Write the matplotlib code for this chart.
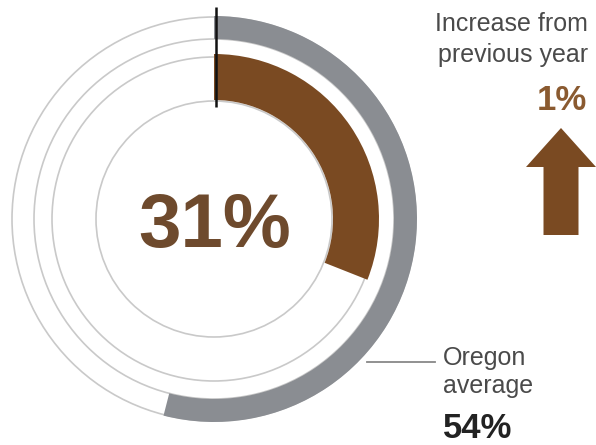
import matplotlib.pyplot as plt
from matplotlib.patches import Wedge, Circle, FancyArrow

W, H = 596, 445

# values
share = 31            # local share, percent
oregon_average = 54   # state average, percent
change = 1            # increase from previous year, percent

labels_top = ["Increase from", "previous year"]
labels_avg = ["Oregon", "average"]

BROWN = "#7a4a22"
BROWN_TEXT = "#6e4a2d"
GRAY = "#8a8d92"
THIN = "#c9c9c9"
TEXT = "#4a4a4a"

CX, CY = 214, H - 219
TRACKS = {"avg": (180, 203), "share": (119, 165)}

plt.rcParams['font.family'] = ['Liberation Sans', 'DejaVu Sans']

fig = plt.figure(figsize=(W / 100, H / 100), dpi=100)
ax = fig.add_axes([0, 0, 1, 1])
ax.set_xlim(0, W)
ax.set_ylim(0, H)
ax.set_aspect('equal')
ax.axis('off')


def pct_to_theta(p):
    # clockwise from 12 o'clock
    return 90 - 360 * p / 100


# thin track outlines
for r in [202, 180, 162, 118]:
    ax.add_patch(Circle((CX, CY), r, fill=False, ec=THIN, lw=1.2))

r0, r1 = TRACKS["avg"]
ax.add_patch(Wedge((CX, CY), r1, pct_to_theta(oregon_average), 90,
                   width=r1 - r0, color=GRAY, lw=0))
r0, r1 = TRACKS["share"]
ax.add_patch(Wedge((CX, CY), r1, pct_to_theta(share), 90,
                   width=r1 - r0, color=BROWN, lw=0))

# start marker
ax.plot([CX + 2, CX + 2], [H - 7, H - 107], color="#111111", lw=1.8,
        solid_capstyle='butt')

ax.text(CX + 1, H - 247, f"{share}%", ha='center', va='baseline',
        fontsize=55, fontweight='bold', color=BROWN_TEXT)

# increase block
ax.text(588, H - 31, labels_top[0], ha='right', va='baseline',
        fontsize=18, color=TEXT)
ax.text(588, H - 62, labels_top[1], ha='right', va='baseline',
        fontsize=18, color=TEXT)
ax.text(587, H - 110, f"{change}%", ha='right', va='baseline',
        fontsize=25, fontweight='bold', color="#8a5a30")
ax.add_patch(FancyArrow(561, H - 235, 0, 107, width=35, head_width=70,
                        head_length=39, length_includes_head=True,
                        color=BROWN, lw=0))

# oregon average label
ax.plot([367, 435], [H - 362, H - 362], color="#888888", lw=1.3)
ax.text(443, H - 365, labels_avg[0], ha='left', va='baseline',
        fontsize=18, color=TEXT)
ax.text(443, H - 393, labels_avg[1], ha='left', va='baseline',
        fontsize=18, color=TEXT)
ax.text(443, H - 438, f"{oregon_average}%", ha='left', va='baseline',
        fontsize=25, fontweight='bold', color="#222222")

fig.savefig("out.png", dpi=100)
